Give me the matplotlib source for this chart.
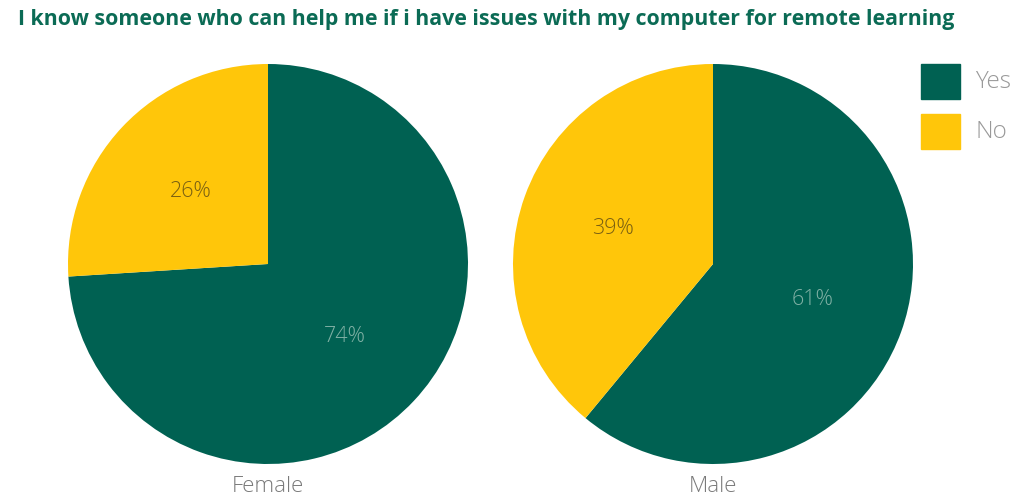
import matplotlib
matplotlib.use("Agg")
import matplotlib.pyplot as plt

title = "I know someone who can help me if i have issues with my computer for remote learning"
groups = ["Female", "Male"]
categories = ["Yes", "No"]
values = {"Female": [74, 26], "Male": [61, 39]}
colors = ["#006152", "#FFC60A"]
label_colors = ["#7FB0A4", "#7A6012"]

W, H = 1018, 500
fig = plt.figure(figsize=(W / 100, H / 100), dpi=100)
fig.patch.set_facecolor("white")

font = "Open Sans"
centers = [(268, 264), (713, 264)]
R = 200
for g, (cx, cy) in zip(groups, centers):
    ax = fig.add_axes([(cx - R) / W, (H - cy - R) / H, 2 * R / W, 2 * R / H])
    wedges, texts, autotexts = ax.pie(
        values[g], colors=colors, startangle=90, counterclock=False,
        autopct=lambda p: f"{p:.0f}%", pctdistance=0.53, radius=1,
        textprops=dict(fontsize=15.5, family=font, fontweight="light"))
    for t, c in zip(autotexts, label_colors):
        t.set_color(c)
    ax.set_xlim(-1, 1)
    ax.set_ylim(-1, 1)
    ax.set_aspect("equal")
    ax.axis("off")
    fig.text(cx / W, 1 - 486 / H, g, ha="center", va="center", fontsize=16,
             family=font, fontweight="light", color="#7A7A7A")

fig.text(18 / W, 1 - 20 / H, title, ha="left", va="center", fontsize=15.4,
         family=font, fontweight="bold", color="#0B6B55")

# legend
for i, (cat, col) in enumerate(zip(categories, colors)):
    y0 = 64 + i * 50
    fig.patches.append(plt.Rectangle((921 / W, 1 - (y0 + 35) / H), 39 / W, 35 / H,
                                     transform=fig.transFigure, color=col, figure=fig))
    fig.text(975 / W, 1 - (y0 + 18) / H, cat, ha="left", va="center", fontsize=17.5,
             family=font, fontweight="light", color="#999999")

fig.savefig("out.png", dpi=100)
